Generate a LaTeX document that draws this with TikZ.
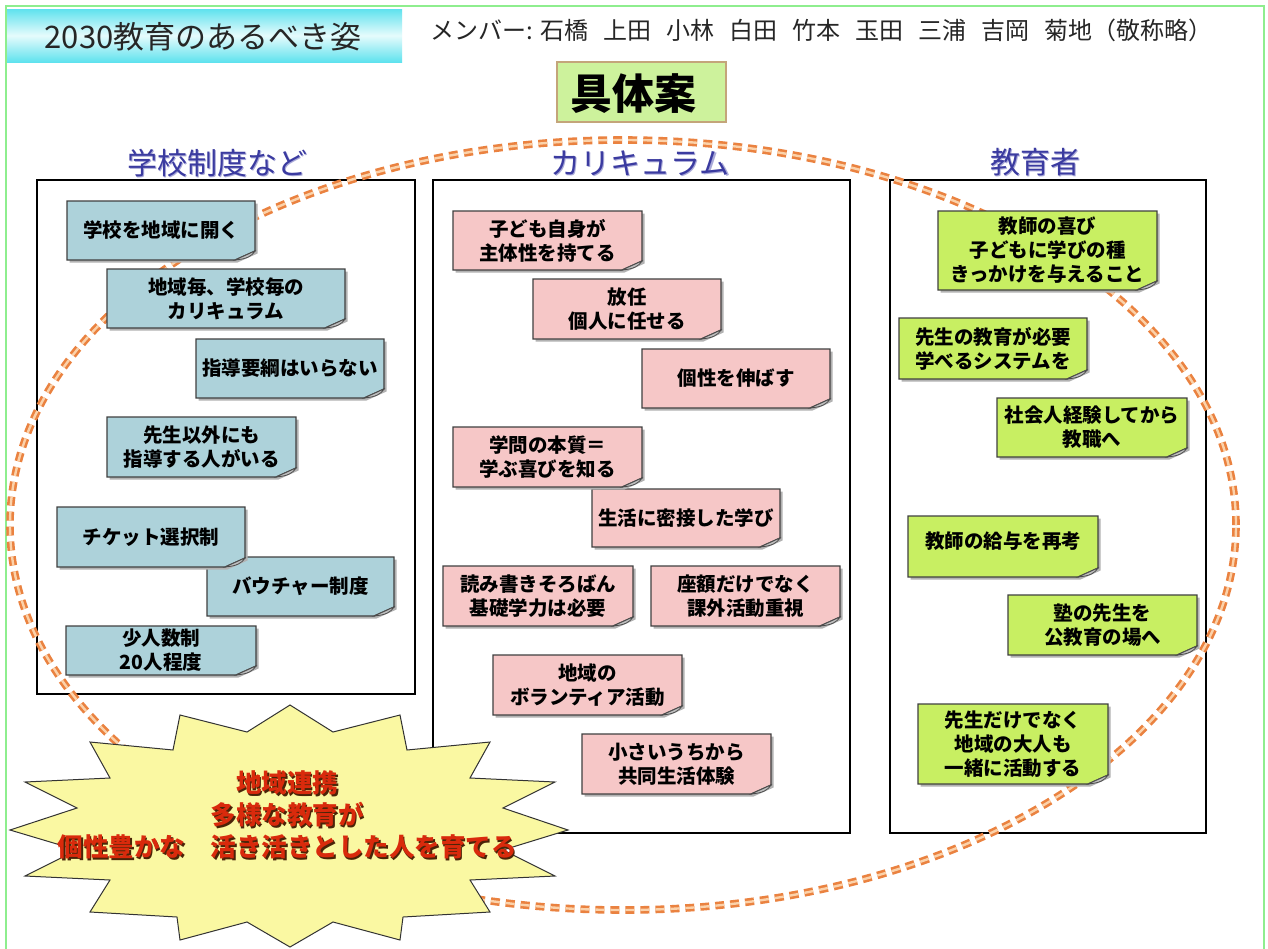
\documentclass[tikz,border=0pt]{standalone}
\usepackage{fontspec}
\setmainfont{Noto Sans CJK JP}
\usetikzlibrary{calc}
\definecolor{frameGreen}{HTML}{8EEE8E}
\definecolor{titleCyan}{HTML}{5FE2EE}
\definecolor{titleLight}{HTML}{E6FBFC}
\definecolor{planFill}{HTML}{CDF29C}
\definecolor{planDraw}{HTML}{C4A57A}
\definecolor{headBlue}{HTML}{3B3BA0}
\definecolor{headShade}{HTML}{A9A9D8}
\definecolor{noteBlue}{HTML}{ADD2DA}
\definecolor{notePink}{HTML}{F6C7C7}
\definecolor{noteGreen}{HTML}{C8EF62}
\definecolor{ringOuter}{HTML}{EA8240}
\definecolor{ringInner}{HTML}{FBD2AA}
\definecolor{starFill}{HTML}{FAF8A2}
\definecolor{starRed}{HTML}{D92A0C}
\definecolor{starShadow}{HTML}{4A2408}
\tikzset{
  notetext/.style={align=center, inner sep=0pt, font=\fontsize{19.5}{24}\selectfont\bfseries},
  colframe/.style={draw=black, line width=1.3pt},
  headtext/.style={text=headBlue, font=\fontsize{30}{34}\selectfont, inner sep=0pt},
  headshadow/.style={text=headShade, font=\fontsize{30}{34}\selectfont, inner sep=0pt},
  ring/.style={draw=ringOuter, line width=2.6pt, double=ringInner, double distance=2.4pt, dash pattern=on 9pt off 6pt},
  startext/.style={align=center, inner sep=0pt, font=\fontsize{25.5}{32}\selectfont\bfseries},
}
% name, x1, y1, x2, y2, colour, text
\newcommand{\snote}[7]{%
  \fill[black!30] (#2+2.5,#3+2.5) -- (#4+2.5,#3+2.5) -- (#4+2.5,#5-6.5) -- (#4-17.5,#5+2.5) -- (#2+2.5,#5+2.5) -- cycle;
  \draw[line width=1.3pt, draw=black!75, fill=#6] (#2,#3) -- (#4,#3) -- (#4,#5-9) -- (#4-20,#5) -- (#2,#5) -- cycle;
  \draw[line width=0.8pt, draw=black!70, fill=black!25] (#4,#5-9) -- (#4-20,#5) .. controls (#4-8,#5-1) and (#4-3,#5-4) .. cycle;
  \node[notetext] (#1) at ({(#2+#4)/2},{(#3+#5)/2}) {#7};%
}
\begin{document}
\begin{tikzpicture}[x=1pt,y=-1pt]
\useasboundingbox (0,0) rectangle (1268,948);
\fill[white] (0,0) rectangle (1268,948);
\draw[frameGreen, line width=2pt] (6,6) rectangle (1264,962);

% title
\shade[top color=titleCyan, bottom color=titleCyan, middle color=titleLight] (7,9) rectangle (402,62);
\node[font=\fontsize{31}{36}\selectfont, text=black!85, inner sep=0pt] (title) at (203,37) {2030教育のあるべき姿};
\node[font=\fontsize{24}{28}\selectfont, text=black!85, inner sep=0pt, anchor=west] (members) at (430,30)
  {メンバー:\hspace{8pt}石橋\hspace{15pt}上田\hspace{15pt}小林\hspace{15pt}白田\hspace{15pt}竹本\hspace{15pt}玉田\hspace{15pt}三浦\hspace{15pt}吉岡\hspace{15pt}菊地（敬称略）};

% plan box
\draw[planDraw, line width=1.6pt, fill=planFill] (557,62) rectangle (726,122);
\node[font=\fontsize{42}{46}\selectfont\bfseries, inner sep=0pt] (plan) at (633,94) {具体案};

% column headings
\node[headshadow] (h1s) at (218.5,164.5) {学校制度など};
\node[headshadow] (h2s) at (641.5,164.5) {カリキュラム};
\node[headshadow] (h3s) at (1036.5,163.5) {教育者};
\node[headtext] (h1) at (217,163) {学校制度など};
\node[headtext] (h2) at (640,163) {カリキュラム};
\node[headtext] (h3) at (1035,162) {教育者};

% column frames
\draw[colframe] (37,180) rectangle (415,694);
\draw[colframe] (433,180) rectangle (850,833);
\draw[colframe] (890,180) rectangle (1206,833);

% dotted ring
\draw[ring] (623,525) ellipse [x radius=613pt, y radius=385pt];

% left column notes
\snote{a1}{67}{201}{255}{260}{noteBlue}{学校を地域に開く}
\snote{a2}{107}{269}{345}{328}{noteBlue}{地域毎、学校毎の\\カリキュラム}
\snote{a3}{196}{339}{384}{398}{noteBlue}{指導要綱はいらない}
\snote{a4}{107}{417}{296}{477}{noteBlue}{先生以外にも\\指導する人がいる}
\snote{a6}{207}{557}{394}{616}{noteBlue}{バウチャー制度}
\snote{a5}{57}{507}{245}{567}{noteBlue}{チケット選択制}
\snote{a7}{66}{626}{256}{675}{noteBlue}{少人数制\\20人程度}

% middle column notes
\snote{b1}{453}{211}{642}{270}{notePink}{子ども自身が\\主体性を持てる}
\snote{b2}{533}{279}{721}{339}{notePink}{放任\\個人に任せる}
\snote{b3}{642}{349}{830}{408}{notePink}{個性を伸ばす}
\snote{b5}{592}{489}{780}{547}{notePink}{生活に密接した学び}
\snote{b4}{453}{427}{642}{487}{notePink}{学問の本質＝\\学ぶ喜びを知る}
\snote{b6}{443}{566}{633}{626}{notePink}{読み書きそろばん\\基礎学力は必要}
\snote{b7}{651}{566}{840}{626}{notePink}{座額だけでなく\\課外活動重視}
\snote{b8}{493}{655}{682}{715}{notePink}{地域の\\ボランティア活動}
\snote{b9}{582}{734}{771}{794}{notePink}{小さいうちから\\共同生活体験}

% right column notes
\snote{c1}{938}{211}{1157}{290}{noteGreen}{教師の喜び\\子どもに学びの種\\きっかけを与えること}
\snote{c2}{899}{318}{1087}{379}{noteGreen}{先生の教育が必要\\学べるシステムを}
\snote{c3}{997}{398}{1187}{457}{noteGreen}{社会人経験してから\\教職へ}
\snote{c4}{908}{516}{1098}{577}{noteGreen}{\raisebox{13pt}{教師の給与を再考}}
\snote{c5}{1008}{595}{1197}{655}{noteGreen}{塾の先生を\\公教育の場へ}
\snote{c6}{918}{704}{1108}{784}{noteGreen}{先生だけでなく\\地域の大人も\\一緒に活動する}

% starburst
\draw[draw=black!80, line width=1pt, fill=starFill]
  (290,705) -- (333,732) -- (400,715) -- (407,750) -- (490,742) -- (470,778) -- (555,782) -- (503,808)
  -- (568,830) -- (503,850) -- (555,876) -- (470,880) -- (490,912) -- (403,917) -- (400,940) -- (333,922)
  -- (290,947) -- (247,922) -- (180,940) -- (177,917) -- (90,912) -- (110,880) -- (25,876) -- (77,850)
  -- (10,830) -- (77,808) -- (25,782) -- (110,778) -- (90,742) -- (173,750) -- (180,715) -- (247,732) -- cycle;
\node[startext, text=starShadow] (starshadow) at (288.5,816.5) {地域連携\\多様な教育が\\個性豊かな　活き活きとした人を育てる};
\node[startext, text=starRed] (star) at (287,815) {地域連携\\多様な教育が\\個性豊かな　活き活きとした人を育てる};
\end{tikzpicture}
\end{document}
